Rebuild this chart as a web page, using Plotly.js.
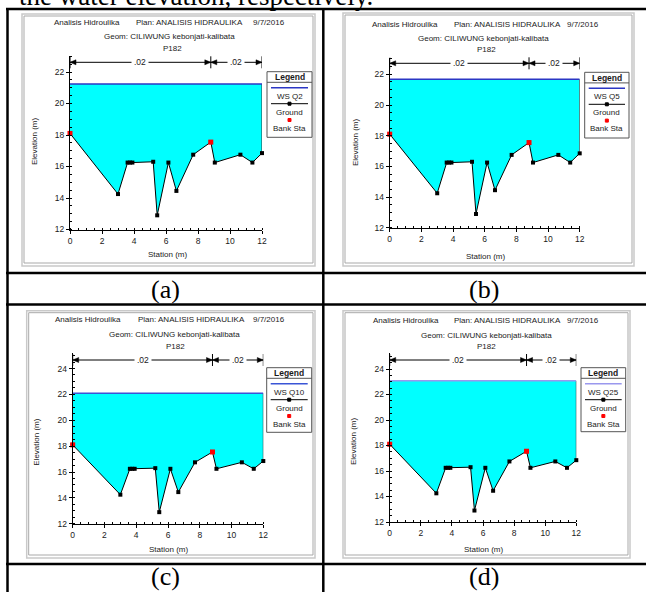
<!DOCTYPE html>
<html><head><meta charset="utf-8">
<script src="https://cdn.plot.ly/plotly-3.0.1.min.js"></script>
<style>html,body{margin:0;padding:0;background:#fff;}#chart{width:646px;height:592px;}</style>
</head><body><div id="chart"></div>
<script>
// ---------- data ----------
const stations = [0, 3.0, 3.6, 3.75, 3.9, 5.2, 5.45, 6.15, 6.65, 7.7, 8.8, 9.05, 10.65, 11.4, 12.0];
const ground   = [18.1, 14.25, 16.25, 16.25, 16.25, 16.3, 12.9, 16.25, 14.45, 16.75, 17.55, 16.25, 16.75, 16.25, 16.85];
const bankStations = [0, 8.8];
const bankElevations = [18.1, 17.55];
const nBreaks = [0, 8.8, 12];
const nValues = ['.02', '.02'];
const profiles = ['WS Q2', 'WS Q5', 'WS Q10', 'WS Q25'];
const wsElevations = [21.24, 21.67, 22.08, 23.07];
const panelLabels = ['(a)', '(b)', '(c)', '(d)'];
const xTickRange = [0, 12];
const yMin = 12;
const headerProject = 'Analisis Hidroulika';
const headerPlan = 'Plan: ANALISIS HIDRAULIKA';
const headerDate = '9/7/2016';
const headerGeom = 'Geom: CILIWUNG kebonjati-kalibata';
const headerStation = 'P182';
const xTitle = 'Station (m)';
const yTitle = 'Elevation (m)';
const legendTitle = 'Legend';
const groundName = 'Ground';
const bankName = 'Bank Sta';
const captionText = 'the water elevation, respectively.';

// ---------- layout helpers ----------
const W = 646, H = 592;
const X = v => v / W, Y = v => 1 - v / H;
const SANS = 'Liberation Sans, Arial, sans-serif';
const SERIF = 'Liberation Serif, Times New Roman, serif';

const P = [
 {x0:70, x1:262, yb:229.5, ppm:15.75, yt:56, br:62.3, frame:[22,14,315,266], hdr:[22.7,53,135,252], geom:[169,36.7], stn:[172,48.3], leg:[267,71.7,312,137.3], xt:[167,255], ytl:[34,142], ws:'#2b36c4', lab:[165,289]},
 {x0:389.7, x1:579.7, yb:227.8, ppm:15.35, yt:58, br:63.3, frame:[343,13,634,266], hdr:[24.3,371.3,453,565.7], geom:[483,38.3], stn:[486.3,50], leg:[584.7,72.3,629,138], xt:[485,256], ytl:[355,143], ws:'#2b36c4', lab:[484,289]},
 {x0:72.7, x1:263.3, yb:523.8, ppm:12.94, yt:353, br:360, frame:[26.7,310.7,315,558], hdr:[319.3,54.3,136.7,252.3], geom:[174,334.3], stn:[175,346], leg:[266.7,367.7,311.7,432.3], xt:[168.3,549], ytl:[35.7,442], ws:'#3a55d6', lab:[165,576.5]},
 {x0:389.7, x1:576.3, yb:522, ppm:12.75, yt:353, br:360, frame:[343,310.7,630,558], hdr:[320.7,372.3,453,565.7], geom:[486.3,335], stn:[486.3,346], leg:[581,367.7,625.7,431.7], xt:[483,549], ytl:[353,442], ws:'#9a98ee', lab:[484,576.5]}
];

const data = [], shapes = [], annotations = [];
const layout = {width:W, height:H, margin:{l:0,r:0,t:0,b:0,pad:0}, paper_bgcolor:'#ffffff', plot_bgcolor:'rgba(0,0,0,0)', showlegend:false, shapes, annotations};

const txt = (t, x, y, opt) => annotations.push(Object.assign({text:t, x:X(x), y:Y(y), xref:'paper', yref:'paper', showarrow:false, xanchor:'center', yanchor:'middle', borderpad:0, font:{family:SANS, size:8, color:'#1a1a1a'}}, opt || {}));
const pline = (x0, y0, x1, y1, color, width, layer) => shapes.push({type:'line', xref:'paper', yref:'paper', x0:X(x0), y0:Y(y0), x1:X(x1), y1:Y(y1), line:{color, width}, layer: layer || 'above'});
const prect = (x0, y0, x1, y1, color, width, fill, layer) => shapes.push({type:'rect', xref:'paper', yref:'paper', x0:X(x0), y0:Y(y0), x1:X(x1), y1:Y(y1), line:{color, width}, fillcolor: fill || 'rgba(0,0,0,0)', layer: layer || 'above'});

const axCommon = {showgrid:false, zeroline:false, showline:true, linecolor:'#000', linewidth:1, ticks:'outside', ticklen:3, tickwidth:1, tickcolor:'#000', tickfont:{family:SANS, size:8.5, color:'#1a1a1a'}, minor:{ticks:'inside', ticklen:2, tickwidth:1, tickcolor:'#000', dtick:0.5, showgrid:false}, fixedrange:true, tickmode:'linear', dtick:2, tick0:0};

P.forEach((p, i) => {
  const sfx = i === 0 ? '' : String(i + 1);
  const xa = 'x' + sfx, ya = 'y' + sfx;
  const ymax = yMin + (p.yb - p.yt) / p.ppm;
  layout['xaxis' + sfx] = Object.assign({}, axCommon, {domain:[X(p.x0), X(p.x1)], range:xTickRange, anchor:ya});
  layout['yaxis' + sfx] = Object.assign({}, axCommon, {domain:[Y(p.yb), Y(p.yt)], range:[yMin, ymax], anchor:xa});

  // window frame
  const f = p.frame;
  prect(f[0], f[1], f[2], f[3], '#c9c9c9', 1.5, '#ffffff', 'below');
  prect(f[0] + 2, f[1] + 2, f[2] - 2, f[3] - 3, '#a9a9a9', 1, 'rgba(0,0,0,0)', 'below');

  // header texts
  txt(headerProject, p.hdr[1], p.hdr[0], {xanchor:'left'});
  txt(headerPlan, p.hdr[2], p.hdr[0], {xanchor:'left'});
  txt(headerDate, p.hdr[3], p.hdr[0], {xanchor:'left'});
  txt(headerGeom, p.geom[0], p.geom[1]);
  txt(headerStation, p.stn[0], p.stn[1]);
  txt(xTitle, p.xt[0], p.xt[1]);
  txt(yTitle, p.ytl[0], p.ytl[1], {textangle:-90});

  // traces
  const last = stations.length - 1;
  const ws = wsElevations[i];
  data.push({type:'scatter', x:stations.concat([stations[last], stations[0]]), y:ground.concat([ws, ws]), xaxis:xa, yaxis:ya, mode:'lines', fill:'toself', fillcolor:'#00ffff', line:{width:0, color:'rgba(0,0,0,0)'}, hoverinfo:'skip'});
  data.push({type:'scatter', x:[stations[last], stations[last]], y:[ground[last], ws], xaxis:xa, yaxis:ya, mode:'lines', line:{color:'#333', width:1}, cliponaxis:false, hoverinfo:'skip'});
  data.push({type:'scatter', x:[stations[0], stations[last]], y:[ws, ws], xaxis:xa, yaxis:ya, mode:'lines', line:{color:p.ws, width:1.5}, cliponaxis:false, name:profiles[i]});
  data.push({type:'scatter', x:stations, y:ground, xaxis:xa, yaxis:ya, mode:'lines+markers', line:{color:'#000', width:1}, marker:{symbol:'square', size:4, color:'#000'}, cliponaxis:false, name:groundName});
  data.push({type:'scatter', x:bankStations, y:bankElevations, xaxis:xa, yaxis:ya, mode:'markers', marker:{symbol:'square', size:5, color:'#ff0000'}, cliponaxis:false, name:bankName});

  // Manning's n brackets
  const ppmX = (p.x1 - p.x0) / (xTickRange[1] - xTickRange[0]);
  const ah = 6 / ppmX;
  const yb = Y(p.br), yu = Y(p.br - 2.5), yd = Y(p.br + 2.5);
  nValues.forEach((n, k) => {
    const a = nBreaks[k], b = nBreaks[k + 1];
    shapes.push({type:'line', xref:xa, yref:'paper', x0:a, x1:b, y0:yb, y1:yb, line:{color:'#000', width:1}});
    shapes.push({type:'path', xref:xa, yref:'paper', path:`M ${a},${yb} L ${a + ah},${yu} L ${a + ah},${yd} Z`, fillcolor:'#000', line:{color:'#000', width:0.5}});
    shapes.push({type:'path', xref:xa, yref:'paper', path:`M ${b},${yb} L ${b - ah},${yu} L ${b - ah},${yd} Z`, fillcolor:'#000', line:{color:'#000', width:0.5}});
    annotations.push({text:n, x:(a + b) / 2, y:yb, xref:xa, yref:'paper', showarrow:false, xanchor:'center', yanchor:'middle', bgcolor:'#ffffff', borderpad:2, font:{family:SANS, size:8.5, color:'#1a1a1a'}});
  });
  nBreaks.forEach(b => {
    shapes.push({type:'line', xref:xa, yref:'paper', x0:b, x1:b, y0:Y(p.br - 6), y1:Y(p.br + 6), line:{color:'#000', width:1}});
  });

  // legend box
  const [L, T, R, B] = p.leg;
  const mid = (L + R) / 2;
  prect(L, T, R, B, '#555', 1, '#ffffff');
  pline(L, T + 10.6, R, T + 10.6, '#555', 1);
  txt('<b>' + legendTitle + '</b>', mid, T + 5.5, {font:{family:SANS, size:8.5, color:'#1a1a1a'}});
  pline(L + 4, T + 16, R - 4, T + 16, p.ws, 1.5);
  txt(profiles[i], mid, T + 24.3);
  pline(L + 4, T + 32, R - 4, T + 32, '#000', 1);
  prect(mid - 1.5, T + 30.5, mid + 1.5, T + 33.5, '#000', 1, '#000');
  txt(groundName, mid, T + 40.3);
  prect(mid - 1.5, T + 46.8, mid + 1.5, T + 49.8, '#ff0000', 1, '#ff0000');
  txt(bankName, mid, T + 56.3);

  // panel label
  txt(panelLabels[i], p.lab[0], p.lab[1], {font:{family:SERIF, size:26, color:'#000'}});
});

// table grid
const TB = '#000', TW = 2.5;
pline(6, 9, 646, 9, TB, TW);
pline(7.5, 8, 7.5, 592, TB, TW);
pline(323.3, 8, 323.3, 592, TB, TW);
pline(6, 273, 646, 273, TB, TW);
pline(6, 304.5, 646, 304.5, TB, TW);
pline(6, 564, 646, 564, TB, TW);

// cut-off caption line at the top
txt(captionText, 18, 12, {xanchor:'left', yanchor:'bottom', font:{family:SERIF, size:27, color:'#000'}});

Plotly.newPlot('chart', data, layout, {staticPlot:true, displayModeBar:false});
</script>
</body></html>
